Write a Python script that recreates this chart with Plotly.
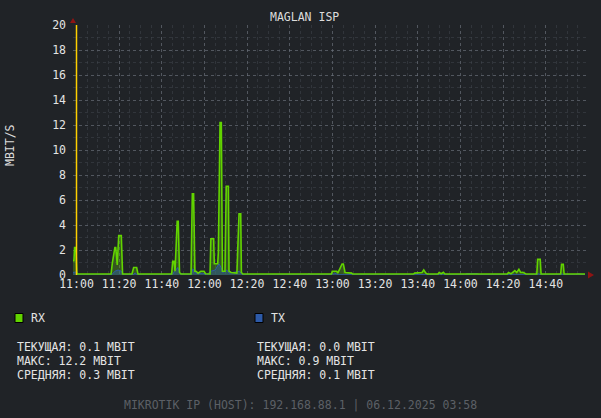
import plotly.graph_objects as go
import pandas as pd

# ---- data (minutes after 11:00, Mbit/s) ----
rx_minutes = [-1.7, -1.2, -0.9, -0.3, 0.2, 16.2, 16.8, 18.0, 18.4, 19.1, 19.8, 21.0, 21.6,
              26.0, 26.8, 28.2, 28.8, 44.6, 45.1, 45.7, 46.2, 47.2, 47.7, 48.3, 49.0,
              53.7, 54.3, 54.9, 55.5, 56.0, 57.0, 58.3, 59.8, 60.5, 62.6, 63.0, 64.3,
              64.6, 66.2, 66.5, 67.3, 67.9, 68.4, 69.6, 70.2, 71.2, 71.5, 72.5, 75.2,
              76.2, 77.0, 77.3, 78.0, 119.5, 119.9, 122.0, 122.5, 124.5, 125.1, 125.9,
              129.0, 129.5, 158.0, 158.5, 162.0, 162.8, 163.8, 164.5, 169.5, 170.0,
              171.0, 172.0, 172.7, 202.0, 202.5, 203.7, 205.5, 206.4, 207.4, 208.2,
              209.3, 210.7, 215.8, 216.2, 217.4, 217.8, 227.0, 227.4, 228.2, 228.6, 238.4]
rx_values = [1.15, 1.15, 2.2, 2.2, 0.08, 0.08, 0.95, 2.2, 2.2, 0.8, 3.15, 3.15, 0.08,
             0.08, 0.6, 0.6, 0.08, 0.08, 1.1, 1.1, 0.3, 4.3, 4.3, 0.2, 0.08,
             0.08, 6.5, 6.5, 0.3, 0.3, 0.15, 0.3, 0.3, 0.1, 0.08, 2.9, 2.9,
             0.9, 0.9, 1.8, 12.2, 12.2, 0.3, 0.3, 7.1, 7.1, 0.3, 0.2, 0.15,
             4.9, 4.9, 0.2, 0.08, 0.08, 0.3, 0.3, 0.15, 0.88, 0.88, 0.2,
             0.15, 0.08, 0.08, 0.15, 0.2, 0.4, 0.15, 0.08, 0.08, 0.2,
             0.1, 0.22, 0.08, 0.08, 0.2, 0.1, 0.35, 0.2, 0.45, 0.2,
             0.22, 0.08, 0.08, 1.25, 1.25, 0.08, 0.08, 0.85, 0.85, 0.08, 0.08]

tx_minutes = [-1.7, 0.0, 1.0, 16.5, 18.0, 19.5, 21.0, 22.0, 26.5, 27.5, 28.5, 45.0, 46.0,
              47.5, 48.5, 53.8, 54.6, 55.5, 57.0, 59.0, 61.0, 63.0, 65.0, 66.8, 67.8,
              68.5, 70.5, 71.5, 76.5, 77.5, 80.0, 108.0, 109.0, 110.0, 120.0, 121.0,
              123.0, 182.0, 183.0, 188.0, 189.0, 200.0, 201.0, 215.0, 216.5, 218.0,
              226.0, 227.0, 229.0, 234.0, 235.0, 238.4]
tx_values = [0.2, 0.25, 0.02, 0.02, 0.3, 0.4, 0.3, 0.02, 0.02, 0.15, 0.02, 0.02, 0.3,
             0.6, 0.1, 0.05, 0.5, 0.2, 0.1, 0.15, 0.02, 0.3, 0.4, 0.9, 0.6,
             0.2, 0.4, 0.15, 0.3, 0.05, 0.02, 0.02, 0.1, 0.02, 0.02, 0.15,
             0.02, 0.02, 0.1, 0.1, 0.02, 0.02, 0.08, 0.02, 0.1, 0.02,
             0.02, 0.1, 0.02, 0.02, 0.1, 0.02]

y_ticks = [0, 2, 4, 6, 8, 10, 12, 14, 16, 18, 20]
x_ticks = ["11:00", "11:20", "11:40", "12:00", "12:20", "12:40", "13:00", "13:20",
           "13:40", "14:00", "14:20", "14:40"]

title_text = "MAGLAN ISP"
y_title = "MBIT/S"
rx_stats = ["ТЕКУЩАЯ: 0.1 MBIT", "МАКС: 12.2 MBIT", "СРЕДНЯЯ: 0.3 MBIT"]
tx_stats = ["ТЕКУЩАЯ: 0.0 MBIT", "МАКС: 0.9 MBIT", "СРЕДНЯЯ: 0.1 MBIT"]
footer = "MIKROTIK IP (HOST): 192.168.88.1 | 06.12.2025 03:58"

base = pd.Timestamp("2025-12-06 11:00:00")
rx_t = [base + pd.Timedelta(minutes=m) for m in rx_minutes]
tx_t = [base + pd.Timedelta(minutes=m) for m in tx_minutes]
tick_t = [base + pd.Timedelta(minutes=20 * i) for i in range(len(x_ticks))]

FONT = "DejaVu Sans Mono"
FS = 11.5
BG = "#202327"
RX_C = "#62d400"
TX_C = "#2d5aa8"

W, H = 601, 418
L, R, T, B = 73, 13, 25, 143
PW, PH = W - L - R, H - T - B


def px(x):
    return (x - L) / PW


def py(y):
    return (H - B - y) / PH


fig = go.Figure()
fig.add_trace(go.Scatter(x=rx_t, y=rx_values, mode="lines", line=dict(width=0, color=RX_C),
                         fill="tozeroy", fillcolor="rgba(90,170,20,0.38)", hoverinfo="skip",
                         showlegend=False))
fig.add_trace(go.Scatter(x=tx_t, y=tx_values, mode="lines", line=dict(width=1, color=TX_C),
                         fill="tozeroy", fillcolor="rgba(45,90,168,0.45)", showlegend=False))
fig.add_trace(go.Scatter(x=rx_t, y=rx_values, mode="lines", line=dict(width=1.6, color=RX_C),
                         showlegend=False))

fig.update_layout(
    width=W, height=H,
    margin=dict(l=L, r=R, t=T, b=B),
    paper_bgcolor=BG, plot_bgcolor=BG,
    font=dict(family=FONT, size=FS, color="#e4e4e4"),
    showlegend=False,
)
fig.update_xaxes(
    type="date",
    range=[base + pd.Timedelta(minutes=-1.64), base + pd.Timedelta(minutes=239.8)],
    tickvals=tick_t, ticktext=x_ticks,
    showgrid=True, gridcolor="rgba(110,115,125,0.55)", griddash="dot", gridwidth=1,
    minor=dict(dtick=300000, showgrid=True, gridcolor="rgba(70,75,85,0.45)", griddash="dot"),
    zeroline=False, showline=False, ticks="",
    tickfont=dict(family=FONT, size=FS, color="#e4e4e4"),
)
fig.update_yaxes(
    range=[0, 20], tickvals=y_ticks, ticktext=[str(v) for v in y_ticks],
    showgrid=True, gridcolor="rgba(110,115,125,0.55)", griddash="dot", gridwidth=1,
    minor=dict(dtick=1, showgrid=True, gridcolor="rgba(70,75,85,0.45)", griddash="dot"),
    zeroline=False, showline=False, ticks="", ticklabelstandoff=6,
    tickfont=dict(family=FONT, size=FS, color="#e4e4e4"),
)

shapes = [
    dict(type="line", xref="x", yref="paper", x0=base, x1=base, y0=0, y1=1,
         line=dict(color="#ffd000", width=1.5)),
    # arrow heads
    dict(type="path", xref="paper", yref="paper",
         path=f"M {px(70)} {py(23)} L {px(76)} {py(23)} L {px(73)} {py(18)} Z",
         fillcolor="#8e1414", line=dict(width=0)),
    dict(type="path", xref="paper", yref="paper",
         path=f"M {px(588)} {py(271.5)} L {px(588)} {py(278.5)} L {px(594)} {py(275)} Z",
         fillcolor="#8e1414", line=dict(width=0)),
    # legend squares
    dict(type="rect", xref="paper", yref="paper", x0=px(15), x1=px(23), y0=py(322.5), y1=py(313.5),
         fillcolor=RX_C, line=dict(color="#000000", width=1)),
    dict(type="rect", xref="paper", yref="paper", x0=px(255), x1=px(263), y0=py(322.5), y1=py(313.5),
         fillcolor=TX_C, line=dict(color="#000000", width=1)),
]
fig.update_layout(shapes=shapes)

ann = []


def add_text(text, x, y, xanchor="left", color="#e4e4e4", angle=0):
    ann.append(dict(text=text, xref="paper", yref="paper", x=px(x), y=py(y), xanchor=xanchor,
                    yanchor="middle", showarrow=False, textangle=angle,
                    font=dict(family=FONT, size=FS, color=color)))


add_text(title_text, 304, 17, xanchor="center", color="#dcdcdc")
ann.append(dict(text=y_title, xref="paper", yref="paper", x=px(10), y=py(145), xanchor="center",
                yanchor="middle", showarrow=False, textangle=-90,
                font=dict(family=FONT, size=FS, color="#dcdcdc")))
add_text("RX", 29, 318)
add_text("TX", 269, 318)
for i, s in enumerate(rx_stats):
    add_text(s, 15, 346.5 + 14 * i)
for i, s in enumerate(tx_stats):
    add_text(s, 255, 346.5 + 14 * i)
add_text(footer, 300.5, 405, xanchor="center", color="#5c6066")
fig.update_layout(annotations=ann)

page_js = ("document.body.style.margin='0';document.body.style.padding='0';"
           "document.body.style.background='#202327';"
           "document.documentElement.style.background='#202327';"
           "document.body.style.overflow='hidden';")
fig.write_html("out.html", post_script=page_js, config={"displayModeBar": False})
